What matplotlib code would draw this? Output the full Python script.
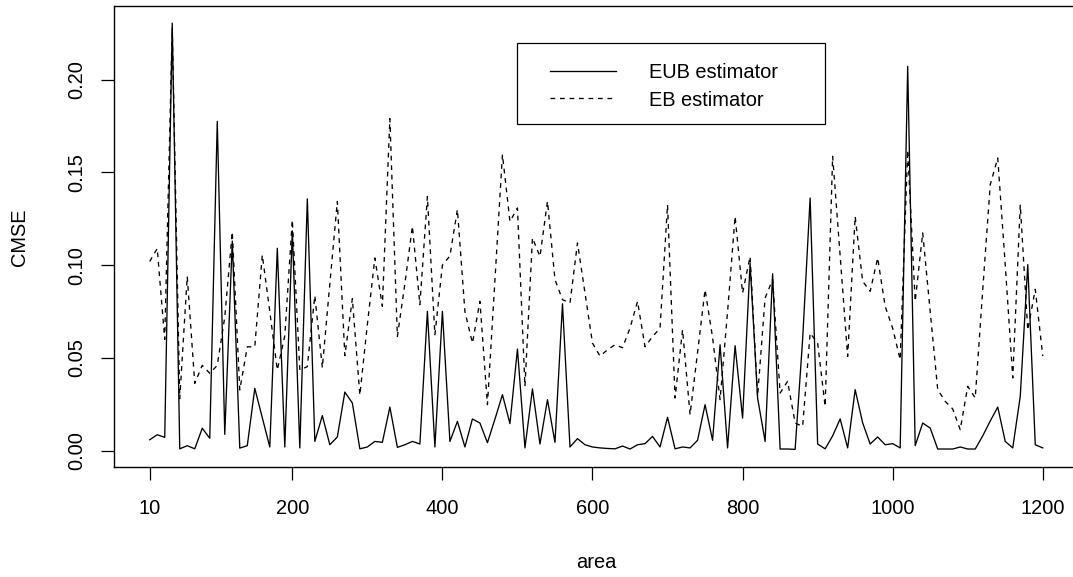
import numpy as np
import matplotlib
matplotlib.use("Agg")
import matplotlib.pyplot as plt
from matplotlib.lines import Line2D
from matplotlib.patches import Rectangle

plt.rcParams["font.family"] = ["Liberation Sans", "DejaVu Sans"]

# areas 10, 20, ..., 1200
area = np.arange(10, 1201, 10)

eub = [
    0.0059, 0.0086, 0.0072, 0.2305, 0.0010, 0.0027, 0.0010, 0.0121, 0.0067, 0.1775,
    0.0088, 0.1130, 0.0014, 0.0027, 0.0336, 0.0178, 0.0020, 0.1091, 0.0020, 0.1185,
    0.0015, 0.1357, 0.0050, 0.0189, 0.0032, 0.0074, 0.0316, 0.0257, 0.0010, 0.0020,
    0.0050, 0.0045, 0.0235, 0.0018, 0.0032, 0.0050, 0.0036, 0.0751, 0.0020, 0.0751,
    0.0050, 0.0158, 0.0020, 0.0171, 0.0149, 0.0043, 0.0170, 0.0302, 0.0146, 0.0548,
    0.0015, 0.0333, 0.0036, 0.0275, 0.0045, 0.0792, 0.0020, 0.0065, 0.0032, 0.0020,
    0.0015, 0.0012, 0.0010, 0.0025, 0.0009, 0.0032, 0.0038, 0.0077, 0.0020, 0.0180,
    0.0010, 0.0020, 0.0015, 0.0056, 0.0248, 0.0056, 0.0571, 0.0015, 0.0566, 0.0176,
    0.1010, 0.0284, 0.0050, 0.0954, 0.0009, 0.0009, 0.0007, 0.0600, 0.1362, 0.0036,
    0.0010, 0.0080, 0.0171, 0.0015, 0.0329, 0.0150, 0.0036, 0.0074, 0.0032, 0.0038,
    0.0015, 0.2072, 0.0027, 0.0149, 0.0122, 0.0009, 0.0009, 0.0009, 0.0020, 0.0009,
    0.0009, 0.0080, 0.0160, 0.0235, 0.0050, 0.0015, 0.0293, 0.1003, 0.0032, 0.0015,
]

eb = [
    0.1020, 0.1090, 0.0600, 0.2280, 0.0280, 0.0940, 0.0363, 0.0460, 0.0417, 0.0460,
    0.0720, 0.1180, 0.0327, 0.0560, 0.0560, 0.1055, 0.0750, 0.0435, 0.0620, 0.1244,
    0.0435, 0.0453, 0.0836, 0.0447, 0.0900, 0.1344, 0.0512, 0.0820, 0.0300, 0.0680,
    0.1039, 0.0778, 0.1790, 0.0616, 0.0900, 0.1210, 0.0787, 0.1370, 0.0625, 0.1000,
    0.1050, 0.1300, 0.0750, 0.0580, 0.0805, 0.0248, 0.0920, 0.1596, 0.1236, 0.1308,
    0.0347, 0.1147, 0.1047, 0.1344, 0.0922, 0.0814, 0.0796, 0.1120, 0.0850, 0.0580,
    0.0510, 0.0544, 0.0571, 0.0555, 0.0661, 0.0805, 0.0560, 0.0615, 0.0660, 0.1326,
    0.0284, 0.0652, 0.0194, 0.0530, 0.0868, 0.0610, 0.0275, 0.0750, 0.1263, 0.0850,
    0.1047, 0.0293, 0.0823, 0.0922, 0.0311, 0.0374, 0.0149, 0.0131, 0.0634, 0.0580,
    0.0239, 0.1587, 0.1050, 0.0508, 0.1263, 0.0913, 0.0859, 0.1039, 0.0778, 0.0660,
    0.0490, 0.1620, 0.0805, 0.1174, 0.0750, 0.0329, 0.0266, 0.0225, 0.0113, 0.0347,
    0.0284, 0.0868, 0.1434, 0.1578, 0.1000, 0.0392, 0.1326, 0.0650, 0.0870, 0.0510,
]

x_ticks = [10, 200, 400, 600, 800, 1000, 1200]
y_ticks = [0.00, 0.05, 0.10, 0.15, 0.20]
y_tick_labels = ["0.00", "0.05", "0.10", "0.15", "0.20"]
legend_labels = ["EUB estimator", "EB estimator"]

W, H = 1073, 577
FS = 14.4
DASH = (0, (3.6, 3.6))

fig = plt.figure(figsize=(W / 100, H / 100), dpi=100)
# plot region in pixels: left 114, right 1078.5 (cut by the image edge), top 6, bottom 466.7
ax = fig.add_axes([114 / W, (H - 466.7) / H, 964.5 / W, 460.7 / H])

ax.plot(area, eub, color="black", lw=0.95)
ax.plot(area, eb, color="black", lw=0.95, linestyle=DASH)

ax.set_xlim(-37.6, 1247.6)
ax.set_ylim(-0.00863, 0.2397)

ax.set_xticks(x_ticks)
ax.set_yticks(y_ticks)
ax.set_yticklabels(y_tick_labels, rotation=90, va="center")
ax.tick_params(axis="both", direction="out", length=9.7, width=0.9, labelsize=FS)
ax.tick_params(axis="x", pad=13.5)
ax.tick_params(axis="y", pad=10)
for sp in ax.spines.values():
    sp.set_linewidth(1.0)

ax.set_xlabel("area", fontsize=FS, va="center")
ax.set_ylabel("CMSE", fontsize=FS, va="center")
ax.xaxis.set_label_coords((596 - 114) / 964.5, (466.7 - 563) / 460.7)
ax.yaxis.set_label_coords((20 - 114) / 964.5, (466.7 - 237) / 460.7)

# legend box, drawn like R's legend()
def fx(px):
    return px / W


def fy(py):
    return (H - py) / H


fig.patches.append(Rectangle((fx(517.3), fy(124.3)), fx(825) - fx(517.3), fy(43.3) - fy(124.3),
                             transform=fig.transFigure, fill=False, edgecolor="black", lw=0.9))
for row, (label, style) in enumerate(zip(legend_labels, ["-", DASH])):
    yc = 70.7 + row * 27.6
    fig.lines.append(Line2D([fx(550), fx(615.7)], [fy(yc), fy(yc)], transform=fig.transFigure,
                            color="black", lw=0.95, linestyle=style))
    fig.text(fx(649.3), fy(yc + 7.2), label, fontsize=FS, va="baseline", ha="left")

fig.savefig("out.png", dpi=100)
